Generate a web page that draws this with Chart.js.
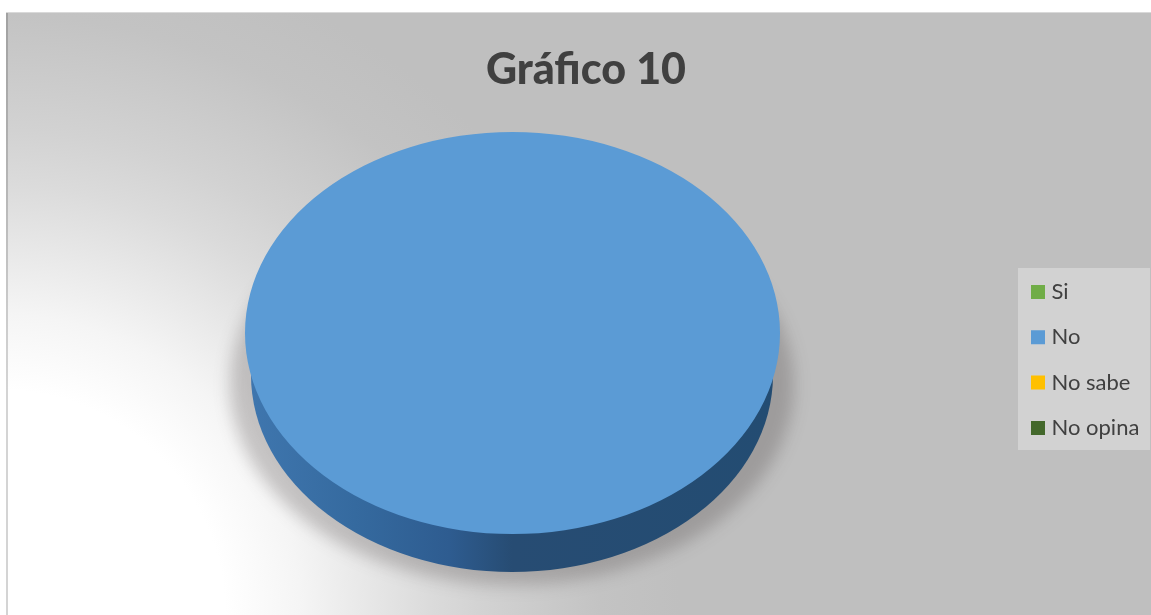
<!DOCTYPE html>
<html lang="es">
<head>
<meta charset="utf-8">
<title>Gráfico 10</title>
<script src="https://cdn.jsdelivr.net/npm/chart.js@4"></script>
<style>
html,body{margin:0;padding:0;background:#fff;overflow:hidden}
canvas{display:block}
</style>
</head>
<body>
<canvas id="c" width="1151" height="615"></canvas>
<script>
const chartTitle = "Gráfico 10";
const categories = ["Si", "No", "No sabe", "No opina"];
const values = [0, 100, 0, 0];
const colors = ["#70ad47", "#5b9bd5", "#ffc000", "#43682b"];

const FRAME = {x: 6, y: 12, r: 1151, b: 615};
const ELLIPSE = {cx: 512.5, cy: 333, rx: 267.5, ry: 201};
const WALL = {cx: 512, cy: 375, rx: 261, ry: 197};
const SHADOW = {cx: 512, cy: 385, rx: 282, ry: 200};
const LEGEND_BOX = {x: 1018, y: 268, w: 132, h: 182};

const pie3d = {
  id: 'pie3d',
  beforeDraw(chart) {
    const c = chart.ctx;
    const g = c.createRadialGradient(0, 615, 0, 0, 615, 680);
    [[0, '#ffffff'], [225, '#ffffff'], [300, '#f5f5f5'], [365, '#e8e8e8'],
     [430, '#dbdbdb'], [485, '#d2d2d2'], [600, '#c3c3c3'], [680, '#bfbfbf']]
      .forEach(([r, col]) => g.addColorStop(r / 680, col));
    c.save();
    c.fillStyle = '#ffffff';
    c.fillRect(0, 0, chart.width, chart.height);
    c.fillStyle = g;
    c.fillRect(FRAME.x, FRAME.y, FRAME.r - FRAME.x, FRAME.b - FRAME.y);
    c.fillStyle = 'rgba(0,0,0,0.17)';
    c.fillRect(FRAME.x, FRAME.y, 2, FRAME.b - FRAME.y);
    c.fillStyle = '#d9d9d9';
    c.fillRect(FRAME.x, FRAME.y, FRAME.r - FRAME.x, 1);
    c.fillStyle = '#d2d2d2';
    c.fillRect(LEGEND_BOX.x, LEGEND_BOX.y, LEGEND_BOX.w, LEGEND_BOX.h);
    c.restore();
  },
  afterLayout(chart) {
    const lg = chart.legend, t = chart.titleBlock;
    const pad = lg.options.labels.padding;
    const dx = 1035.5 - pad - lg.left;
    const dy = 281 - pad - lg.top;
    lg.left += dx; lg.right += dx; lg.top += dy; lg.bottom += dy;
    const tdx = 586 - (t.left + t.right) / 2;
    t.left += tdx; t.right += tdx;
    t.top += 14; t.bottom += 14;
  },
  beforeDatasetsDraw(chart) {
    const c = chart.ctx, arc = chart.getDatasetMeta(0).data[1];
    const E = ELLIPSE, W = WALL, S = SHADOW;
    c.save();
    // soft shadow under the disc
    c.save();
    c.filter = 'blur(8px)';
    c.fillStyle = 'rgba(60,50,50,0.25)';
    c.beginPath();
    c.ellipse(S.cx, S.cy, S.rx, S.ry, 0, 0, Math.PI * 2);
    c.fill();
    c.restore();
    // side wall
    const g = c.createLinearGradient(W.cx - W.rx, 0, W.cx + W.rx, 0);
    g.addColorStop(0, '#3f76ae');
    g.addColorStop(0.2, '#356a9f');
    g.addColorStop(0.38, '#2e5c90');
    g.addColorStop(0.5, '#274c73');
    g.addColorStop(1, '#234c72');
    c.fillStyle = g;
    c.beginPath();
    c.ellipse(W.cx, W.cy, W.rx, W.ry, 0, 0, Math.PI * 2);
    c.fill();
    // flatten the library's arcs to the ellipse of the top face
    const R = arc.outerRadius;
    c.translate(E.cx, E.cy);
    c.scale(E.rx / R, E.ry / R);
    c.translate(-arc.x, -arc.y);
  },
  afterDatasetsDraw(chart) {
    chart.ctx.restore();
  }
};

new Chart(document.getElementById('c'), {
  type: 'pie',
  plugins: [pie3d],
  data: {
    labels: categories,
    datasets: [{data: values, backgroundColor: colors, borderWidth: 0}]
  },
  options: {
    responsive: false,
    devicePixelRatio: 1,
    animation: false,
    events: [],
    layout: {padding: {left: 10, right: 0, top: 30, bottom: 39}},
    plugins: {
      tooltip: {enabled: false},
      title: {
        display: true,
        text: chartTitle,
        color: '#404040',
        font: {family: 'Lato', size: 43, weight: '900'},
        padding: {top: 0, bottom: 8}
      },
      legend: {
        display: true,
        position: 'right',
        align: 'start',
        labels: {
          color: '#404040',
          font: {family: 'Lato', size: 22},
          boxWidth: 5,
          boxHeight: 5,
          padding: 23.3,
          generateLabels(chart) {
            const items = Chart.overrides.pie.plugins.legend.labels.generateLabels(chart);
            items.forEach(it => {
              it.lineWidth = 9;
              it.strokeStyle = it.fillStyle;
            });
            return items;
          }
        }
      }
    }
  }
});
</script>
</body>
</html>
